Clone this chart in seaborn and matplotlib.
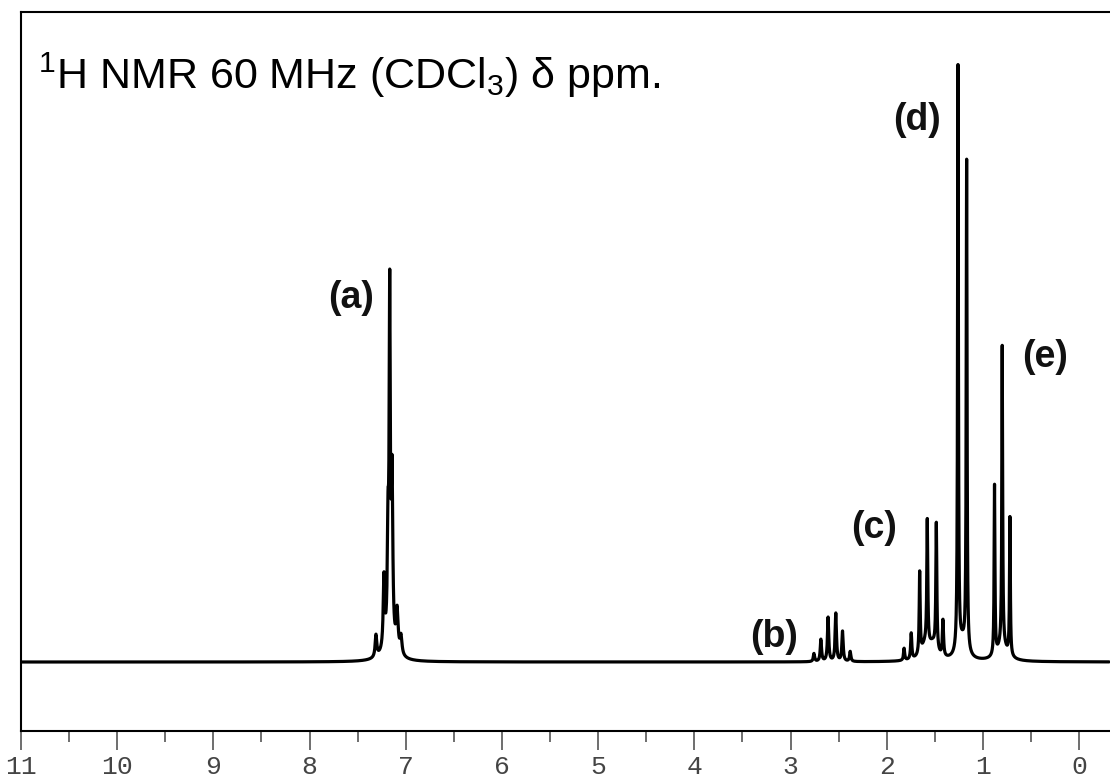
import numpy as np
import pandas as pd
import matplotlib
matplotlib.use("Agg")
import matplotlib.pyplot as plt
import seaborn as sns

# ---- data (ppm, height above baseline, half-width in ppm)
a_pos = [7.31, 7.227, 7.185, 7.167, 7.143, 7.09, 7.05, 7.17]
a_hgt = [22, 70, 100, 338, 160, 40, 18, 16]
a_wid = [0.010, 0.009, 0.008, 0.007, 0.009, 0.012, 0.012, 0.07]

b_pos = [2.757, 2.685, 2.61, 2.53, 2.46, 2.38]
b_hgt = [8, 22, 44, 48, 30, 10]
b_wid = [0.008, 0.008, 0.008, 0.008, 0.008, 0.008]

c_pos = [1.82, 1.746, 1.658, 1.579, 1.485, 1.416, 1.60, 1.52]
c_hgt = [12, 26, 82, 124, 126, 36, 14, 14]
c_wid = [0.007, 0.007, 0.006, 0.006, 0.006, 0.007, 0.05, 0.05]

d_pos = [1.26, 1.17, 1.215]
d_hgt = [585, 490, 18]
d_wid = [0.005, 0.005, 0.05]

e_pos = [0.88, 0.80, 0.72, 0.80]
e_hgt = [170, 299, 138, 16]
e_wid = [0.005, 0.005, 0.005, 0.06]

major_ticks = [11, 10, 9, 8, 7, 6, 5, 4, 3, 2, 1, 0]
minor_ticks = [10.5, 9.5, 8.5, 7.5, 6.5, 5.5, 4.5, 3.5, 2.5, 1.5, 0.5]

labels = ["(a)", "(b)", "(c)", "(d)", "(e)"]
label_x = [7.57, 3.17, 2.13, 1.69, 0.36]
label_y = [364, 25, 134, 542, 305]

title = r"$^{1}$H NMR 60 MHz (CDCl$_{3}$) δ ppm."

# ---- build the spectrum from the peak lists
ppm = np.linspace(-0.31, 11.0, 40000)
spec = np.zeros_like(ppm)
for P, H, W in [(a_pos, a_hgt, a_wid), (b_pos, b_hgt, b_wid), (c_pos, c_hgt, c_wid),
                (d_pos, d_hgt, d_wid), (e_pos, e_hgt, e_wid)]:
    for p, h, w in zip(P, H, W):
        spec += h * w**2 / ((ppm - p)**2 + w**2)
df = pd.DataFrame({"ppm": ppm, "intensity": spec})

sns.set_theme(style="white")
plt.rcParams["font.family"] = ["Liberation Sans", "DejaVu Sans"]
plt.rcParams["mathtext.fontset"] = "custom"
plt.rcParams["mathtext.rm"] = "Liberation Sans"
plt.rcParams["mathtext.it"] = "Liberation Sans:italic"
plt.rcParams["mathtext.bf"] = "Liberation Sans:bold"

fig = plt.figure(figsize=(11.10, 7.82), dpi=100)
ax = fig.add_axes([21 / 1110, (782 - 731) / 782, 1.02, (731 - 12) / 782])

sns.lineplot(data=df, x="ppm", y="intensity", ax=ax, color="black",
             linewidth=2.3, estimator=None, sort=False)

ax.set_xlim(11.0, 11.0 - (1.02 * 1110) / 96.2)
ax.set_ylim(-69, 650)
ax.set_xlabel("")
ax.set_ylabel("")
ax.set_yticks([])

ax.set_xticks(major_ticks)
ax.set_xticklabels([str(t) for t in major_ticks])
ax.set_xticks(minor_ticks, minor=True)
ax.tick_params(axis="x", which="major", direction="out", length=14, width=1.2,
               color="#555555", pad=3, labelsize=19, labelcolor="#444444", bottom=True)
ax.tick_params(axis="x", which="minor", direction="out", length=8, width=1.2,
               color="#555555", bottom=True)
for lab in ax.get_xticklabels():
    lab.set_family(["Liberation Mono", "DejaVu Sans Mono"])

for s in ["left", "top", "bottom"]:
    ax.spines[s].set_visible(True)
    ax.spines[s].set_color("black")
    ax.spines[s].set_linewidth(1.5)
ax.spines["right"].set_visible(False)

ax.text(0.015, 0.912, title, transform=ax.transAxes, fontsize=31,
        ha="left", va="center", color="black")

for t, x, y in zip(labels, label_x, label_y):
    ax.text(x, y, t, fontsize=27, fontweight="bold", ha="center", va="center",
            color="#111111")

fig.savefig("out.png", dpi=100)
